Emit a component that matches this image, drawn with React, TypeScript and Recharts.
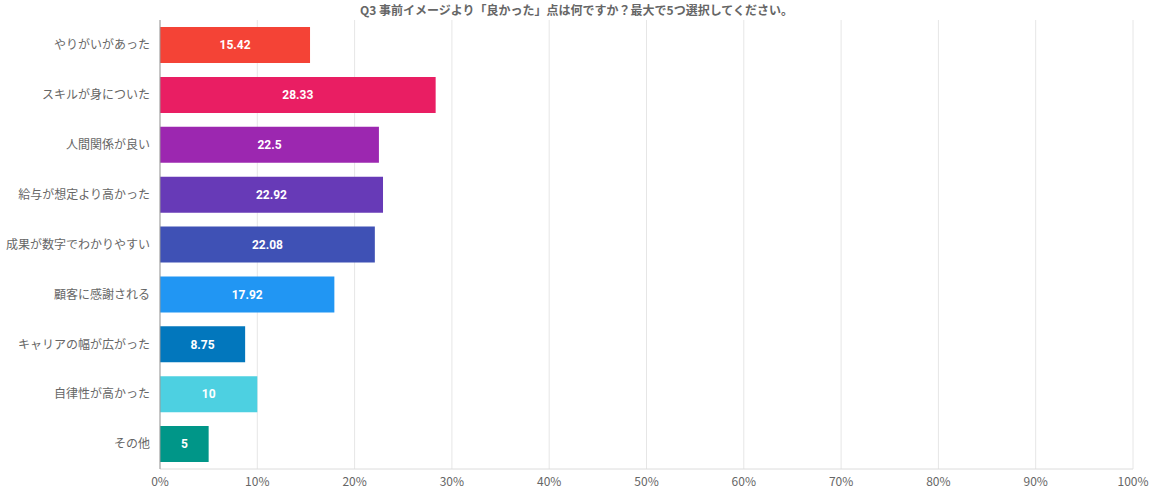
import React from 'react';
import { BarChart, Bar, XAxis, YAxis, CartesianGrid, Cell, LabelList } from 'recharts';

const categories = [
  'やりがいがあった',
  'スキルが身についた',
  '人間関係が良い',
  '給与が想定より高かった',
  '成果が数字でわかりやすい',
  '顧客に感謝される',
  'キャリアの幅が広がった',
  '自律性が高かった',
  'その他',
];
const values = [15.42, 28.33, 22.5, 22.92, 22.08, 17.92, 8.75, 10, 5];
const colors = ['#F44336', '#E91E63', '#9C27B0', '#673AB7', '#3F51B5', '#2196F3', '#0277BD', '#4DD0E1', '#009688'];
const xTicks = [0, 10, 20, 30, 40, 50, 60, 70, 80, 90, 100];
const title = 'Q3 事前イメージより「良かった」点は何ですか？最大で5つ選択してください。';

const data = categories.map((name, i) => ({ name, value: values[i] }));

const font = '"Noto Sans CJK JP", "Noto Sans", Roboto, sans-serif';

export default function App() {
  return (
    <div style={{ position: 'absolute', left: 0, top: 0, width: 1153, height: 500, background: '#fff', fontFamily: font }}>
      <div
        style={{
          position: 'absolute',
          left: 0,
          top: 2,
          width: 1153,
          textAlign: 'center',
          fontSize: 12,
          fontWeight: 'bold',
          color: '#666',
          lineHeight: '16px',
        }}
      >
        {title}
      </div>
      <BarChart
        width={1153}
        height={500}
        data={data}
        layout="vertical"
        margin={{ top: 20, right: 20, bottom: 1, left: 0 }}
        barCategoryGap={7}
      >
        <CartesianGrid horizontal={false} stroke="#e6e6e6" />
        <XAxis
          type="number"
          domain={[0, 100]}
          ticks={xTicks}
          tickFormatter={(v) => `${v}%`}
          tickLine={false}
          axisLine={{ stroke: '#dcdcdc' }}
          tick={{ fill: '#666', fontSize: 12, fontFamily: font }}
          height={30}
          interval={0}
        />
        <YAxis
          type="category"
          dataKey="name"
          width={160}
          tickLine={false}
          axisLine={{ stroke: '#999' }}
          tick={{ fill: '#666', fontSize: 12, fontFamily: font }}
          tickMargin={4}
          interval={0}
        />
        <Bar dataKey="value" barSize={36} isAnimationActive={false}>
          {data.map((d, i) => (
            <Cell key={d.name} fill={colors[i]} />
          ))}
          <LabelList
            dataKey="value"
            position="center"
            fill="#fff"
            style={{ fontWeight: 'bold', fontSize: 12, fontFamily: 'Roboto, sans-serif' }}
          />
        </Bar>
      </BarChart>
    </div>
  );
}
